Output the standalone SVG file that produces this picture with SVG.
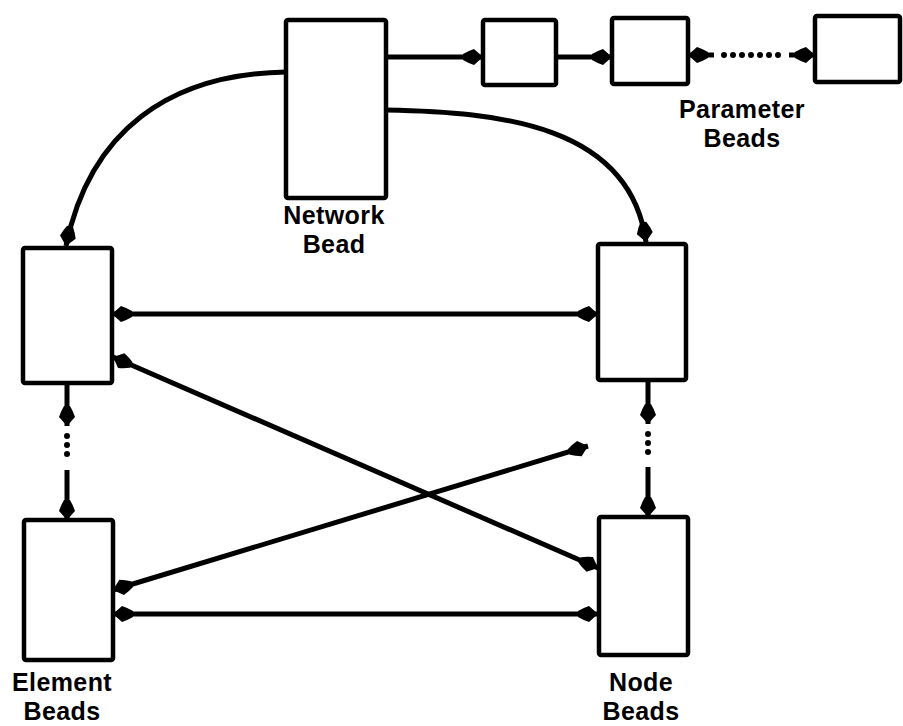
<svg xmlns="http://www.w3.org/2000/svg" width="903" height="726" viewBox="0 0 903 726">
<style>
.bead{fill:#fff;stroke:#000;stroke-width:4.5;stroke-linejoin:round}
.c{fill:none;stroke:#000;stroke-width:5}
.dots{fill:none;stroke:#000;stroke-width:6;stroke-linecap:round;stroke-dasharray:0 9}
.lbl{font-family:"Liberation Sans",Arial,sans-serif;font-weight:bold;font-size:25px;letter-spacing:0.4px;text-anchor:middle;fill:#000}
</style>
<defs>
<marker id="ah" viewBox="-21 -9 22 18" refX="0" refY="0" markerWidth="22" markerHeight="18" markerUnits="userSpaceOnUse" orient="auto-start-reverse">
<path d="M0,0 L-9,-8 Q-15,-6 -20,-3 L-20,3 Q-15,6 -9,8 Z" fill="#000"/>
</marker>
</defs>
<rect width="903" height="726" fill="#fff"/>
<g id="connectors">
<path class="c" d="M386,57 L483,57" marker-end="url(#ah)"/>
<path class="c" d="M556,57 L612,57" marker-end="url(#ah)"/>
<path class="c" d="M714,55 L688,55" marker-end="url(#ah)"/>
<path class="dots" d="M724,55 L780,55"/>
<path class="c" d="M789,55 L815,55" marker-end="url(#ah)"/>
<path class="c" d="M286,72 C170,74 90,130 66,246" marker-end="url(#ah)"/>
<path class="c" d="M386,110 C500,112 630,125 646,242" marker-end="url(#ah)"/>
<path class="c" d="M112,314 L598,314" marker-start="url(#ah)" marker-end="url(#ah)"/>
<path class="c" d="M113,357 L598,568" marker-start="url(#ah)" marker-end="url(#ah)"/>
<path class="c" d="M113,590 L588,446" marker-start="url(#ah)" marker-end="url(#ah)"/>
<path class="c" d="M113,614 L598,614" marker-start="url(#ah)" marker-end="url(#ah)"/>
<path class="c" d="M67,383 L67,426" marker-end="url(#ah)"/>
<path class="dots" d="M67,436 L67,462"/>
<path class="c" d="M67,470 L67,520" marker-end="url(#ah)"/>
<path class="c" d="M648,380 L648,424" marker-end="url(#ah)"/>
<path class="dots" d="M648,434 L648,460"/>
<path class="c" d="M648,467 L648,517" marker-end="url(#ah)"/>
</g>
<g id="network-bead">
<rect class="bead" x="286" y="20" width="100" height="178" rx="2"/>
<text class="lbl" x="334" y="224">Network</text>
<text class="lbl" x="334" y="253">Bead</text>
</g>
<g id="parameter-bead-1"><rect class="bead" x="483" y="20" width="73" height="65" rx="2"/></g>
<g id="parameter-bead-2"><rect class="bead" x="612" y="18" width="76" height="66" rx="2"/></g>
<g id="parameter-bead-3"><rect class="bead" x="815" y="16" width="85" height="66" rx="2"/></g>
<g id="parameter-label">
<text class="lbl" x="742" y="118">Parameter</text>
<text class="lbl" x="742" y="147">Beads</text>
</g>
<g id="element-bead-1"><rect class="bead" x="23" y="248" width="89" height="135" rx="2"/></g>
<g id="node-bead-1"><rect class="bead" x="598" y="244" width="88" height="136" rx="2"/></g>
<g id="element-bead-2">
<rect class="bead" x="24" y="520" width="89" height="140" rx="2"/>
<text class="lbl" x="62" y="691">Element</text>
<text class="lbl" x="62" y="720">Beads</text>
</g>
<g id="node-bead-2">
<rect class="bead" x="599" y="517" width="89" height="138" rx="2"/>
<text class="lbl" x="641" y="691">Node</text>
<text class="lbl" x="641" y="720">Beads</text>
</g>
</svg>
